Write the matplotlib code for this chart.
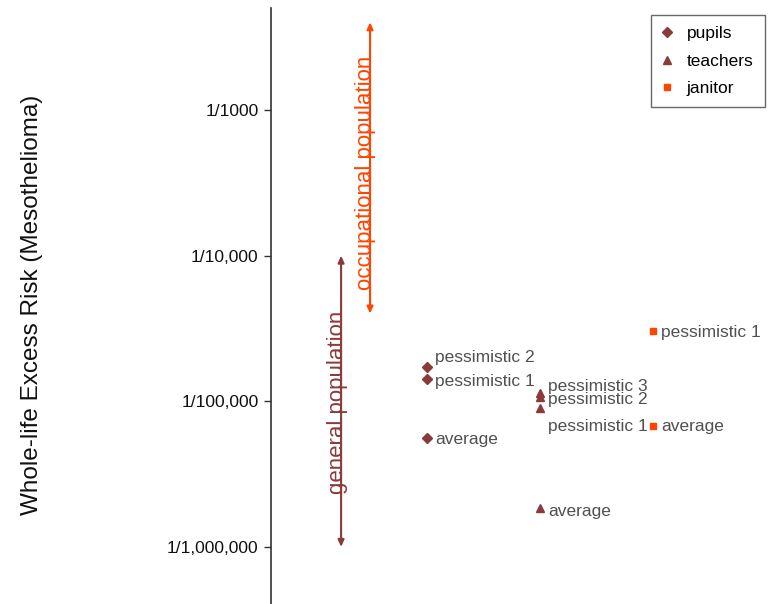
import numpy as np
import matplotlib
matplotlib.use("Agg")
import matplotlib.pyplot as plt
from matplotlib.ticker import FixedLocator, NullLocator

plt.rcParams['font.family'] = ['Liberation Sans', 'DejaVu Sans']

# risk estimates per group (whole-life excess risk)
pupil_labels = ["pessimistic 2", "pessimistic 1", "average"]
pupil_risk = [1.72e-5, 1.42e-5, 5.6e-6]
teacher_labels = ["pessimistic 3", "pessimistic 2", "pessimistic 1", "average"]
teacher_risk = [1.14e-5, 1.07e-5, 9.0e-6, 1.85e-6]
janitor_labels = ["pessimistic 1", "average"]
janitor_risk = [3.04e-5, 6.8e-6]

# vertical label nudges in pixels so the text does not collide
pupil_dy = [9, -2, -2]
teacher_dy = [7, -2, -19, -3]
janitor_dy = [-2, -1]

tick_vals = [1e-3, 1e-4, 1e-5, 1e-6]
tick_text = ["1/1000", "1/10,000", "1/100,000", "1/1,000,000"]

general_range = [1e-6, 1e-4]
occupational_range = [4e-5, 4e-3]

dark_red = "#8B3A3A"
orange = "#FF4500"
label_grey = "#505050"

fig = plt.figure(figsize=(7.73, 6.04), dpi=100)
ax = fig.add_axes([271 / 773, 0, 1 - 271 / 773, 1 - 8 / 604])

ax.set_yscale("log")
ax.set_xlim(-0.38, 4.06)
ax.set_ylim(4.06e-7, 5.01e-3)

groups = [
    (1, pupil_risk, pupil_labels, pupil_dy, "D", 5, dark_red, "pupils"),
    (2, teacher_risk, teacher_labels, teacher_dy, "^", 5.5, dark_red, "teachers"),
    (3, janitor_risk, janitor_labels, janitor_dy, "s", 5, orange, "janitor"),
]
for xpos, vals, labs, dys, mk, ms, col, name in groups:
    ax.plot([xpos] * len(vals), vals, linestyle="none", marker=mk,
            markersize=ms, color=col, label=name)
    for v, lab, dy in zip(vals, labs, dys):
        ax.annotate(lab, (xpos, v), xytext=(8, dy), textcoords="offset pixels",
                    ha="left", va="center", fontsize=12.5, color=label_grey)

# population ranges as double-headed arrows
ax.annotate("", xy=(0.24, general_range[1]), xytext=(0.24, general_range[0]),
            arrowprops=dict(arrowstyle="<|-|>,head_length=0.4,head_width=0.18",
                            color=dark_red, lw=1.5, shrinkA=0, shrinkB=0))
ax.text(0.205, np.sqrt(general_range[0] * general_range[1]) * 0.98,
        "general population", rotation=90, ha="center", va="center",
        fontsize=16, color=dark_red)

ax.annotate("", xy=(0.496, occupational_range[1]), xytext=(0.496, occupational_range[0]),
            arrowprops=dict(arrowstyle="<|-|>,head_length=0.4,head_width=0.18",
                            color=orange, lw=1.5, shrinkA=0, shrinkB=0))
ax.text(0.46, np.sqrt(occupational_range[0] * occupational_range[1]) * 0.93,
        "occupational population", rotation=90, ha="center", va="center",
        fontsize=16, color=orange)

ax.yaxis.set_major_locator(FixedLocator(tick_vals))
ax.yaxis.set_minor_locator(NullLocator())
ax.set_yticklabels(tick_text)
ax.tick_params(axis="y", direction="out", length=5, width=1, pad=4,
               labelsize=12.5, color="#333333", labelcolor="#111111")
ax.set_xticks([])
for side in ["top", "right", "bottom"]:
    ax.spines[side].set_visible(False)
ax.spines["left"].set_color("#333333")
ax.spines["left"].set_linewidth(1.2)

fig.text(32 / 773, 1 - 305 / 604, "Whole-life Excess Risk (Mesothelioma)",
         rotation=90, ha="center", va="center", fontsize=17.5, color="#111111")

leg = ax.legend(loc="upper right", bbox_to_anchor=(765 / 773, 1 - 15 / 604),
                bbox_transform=fig.transFigure, borderaxespad=0,
                fontsize=12.5, fancybox=False, frameon=True,
                handletextpad=0.9, handlelength=0.5, labelspacing=0.7,
                borderpad=0.65)
leg.get_frame().set_edgecolor("#444444")
leg.get_frame().set_linewidth(1.0)

fig.savefig("out.png", dpi=100)
